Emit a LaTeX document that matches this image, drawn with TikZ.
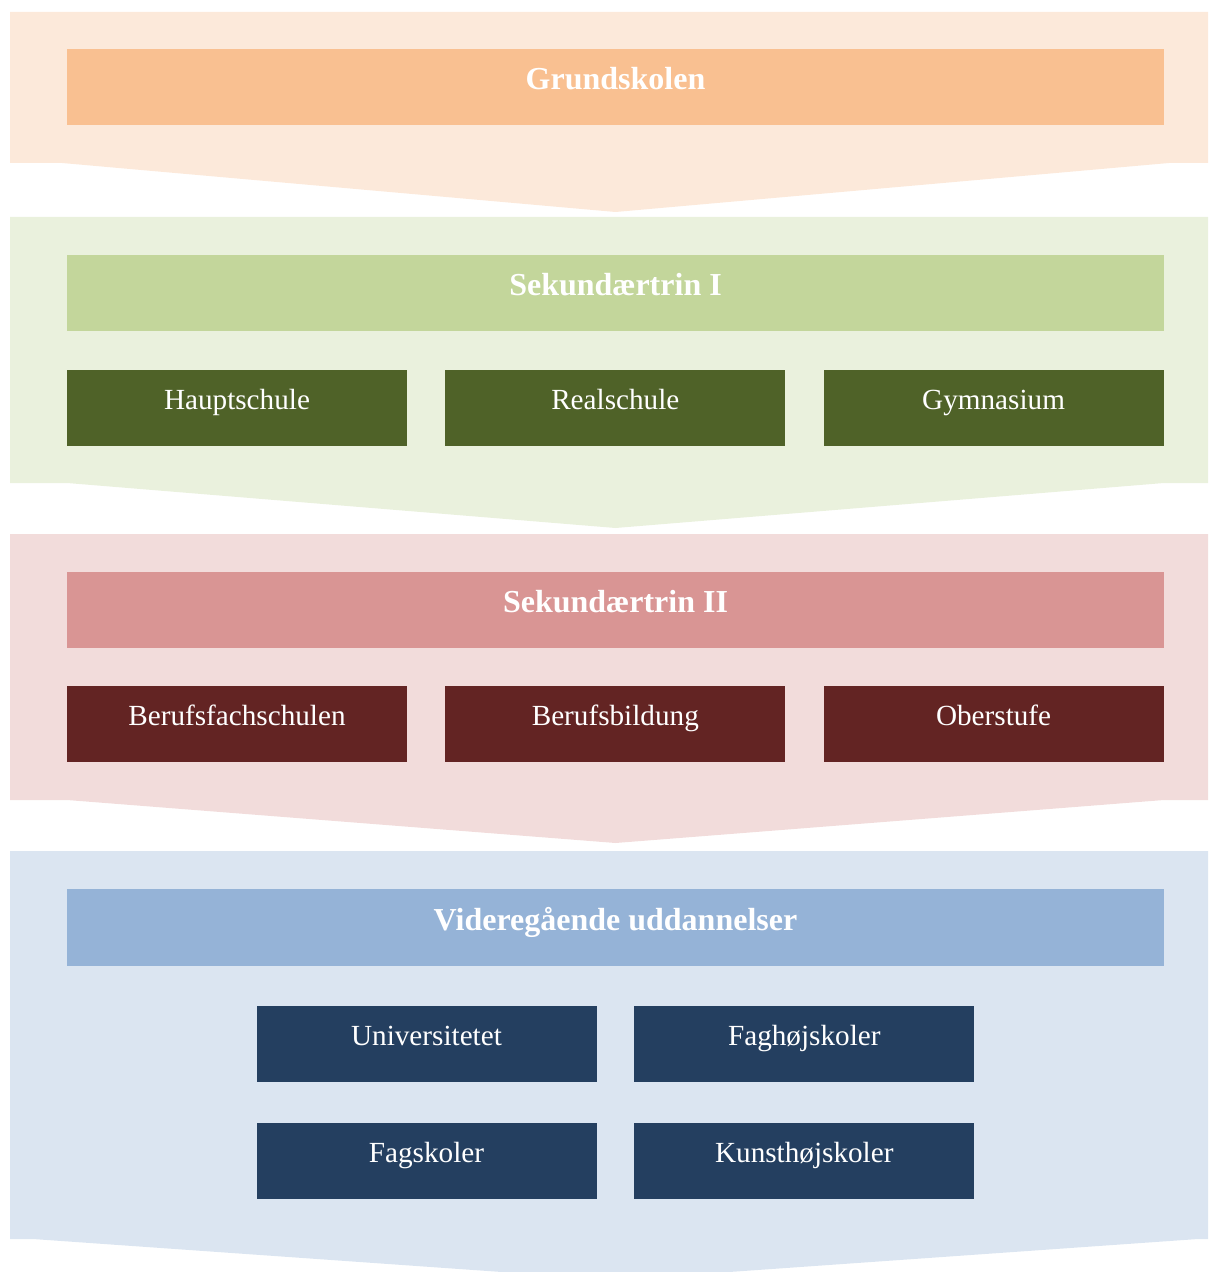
\documentclass[tikz,border=0pt]{standalone}
\usepackage{fontspec}
\setmainfont{Liberation Serif}
\usetikzlibrary{positioning}

\definecolor{bandorange}{HTML}{FCE9DA}
\definecolor{headorange}{HTML}{F9C091}
\definecolor{bandgreen}{HTML}{EAF1DD}
\definecolor{headgreen}{HTML}{C3D69B}
\definecolor{subgreen}{HTML}{4F6228}
\definecolor{bandred}{HTML}{F2DCDB}
\definecolor{headred}{HTML}{D99594}
\definecolor{subred}{HTML}{632423}
\definecolor{bandblue}{HTML}{DBE5F1}
\definecolor{headblue}{HTML}{95B3D7}
\definecolor{subblue}{HTML}{243F60}

\tikzset{
  headbox/.style={rectangle, inner sep=0pt, minimum width=548.5pt, minimum height=38pt,
    text=white, font=\fontsize{16}{18}\selectfont\bfseries, text height=0.5em, text depth=0.25em},
  subbox/.style={rectangle, inner sep=0pt, minimum width=170pt, minimum height=38pt,
    text=white, font=\fontsize{14.6}{17}\selectfont, text height=0.4em, text depth=0.25em}
}

\begin{document}
\begin{tikzpicture}[x=0.5pt, y=-0.5pt]
\useasboundingbox (0,0) rectangle (1208,1272);
\clip (0,0) rectangle (1208,1272);

% chevron bands
\fill[bandorange] (10,12) -- (1221,12) -- (1221,163) -- (1169,163) -- (615.5,212) -- (62,163) -- (10,163) -- cycle;
\fill[bandgreen] (10,217) -- (1221,217) -- (1221,483) -- (1164,483) -- (615.5,528) -- (67,483) -- (10,483) -- cycle;
\fill[bandred] (10,534) -- (1221,534) -- (1221,800) -- (1164,800) -- (615.5,843) -- (67,800) -- (10,800) -- cycle;
\fill[bandblue] (10,851) -- (1221,851) -- (1221,1239) -- (1198,1239) -- (615.5,1280) -- (33,1239) -- (10,1239) -- cycle;

% Grundskolen
\node[headbox, fill=headorange] (grund) at (615.5,87.5) {Grundskolen};

% Sekundaertrin I
\node[headbox, fill=headgreen] (sek1) at (615.5,293) {Sekundærtrin I};
\node[subbox, fill=subgreen, below right=19pt and 0pt of sek1.south west] (haupt) {Hauptschule};
\node[subbox, fill=subgreen, right=18.75pt of haupt] (real) {Realschule};
\node[subbox, fill=subgreen, right=18.75pt of real] (gym) {Gymnasium};

% Sekundaertrin II
\node[headbox, fill=headred] (sek2) at (615.5,610) {Sekundærtrin II};
\node[subbox, fill=subred, below right=18.5pt and 0pt of sek2.south west] (fach) {Berufsfachschulen};
\node[subbox, fill=subred, right=18.75pt of fach] (bild) {Berufsbildung};
\node[subbox, fill=subred, right=18.75pt of bild] (ober) {Oberstufe};

% Videregaaende
\node[headbox, fill=headblue, minimum height=38.5pt] (vide) at (615.5,927.5) {Videregående uddannelser};
\node[subbox, fill=subblue] (uni) at (426.5,1044) {Universitetet};
\node[subbox, fill=subblue, right=18.5pt of uni] (fagh) {Faghøjskoler};
\node[subbox, fill=subblue, below=20pt of uni] (fags) {Fagskoler};
\node[subbox, fill=subblue, right=18.5pt of fags] (kunst) {Kunsthøjskoler};

\end{tikzpicture}
\end{document}
